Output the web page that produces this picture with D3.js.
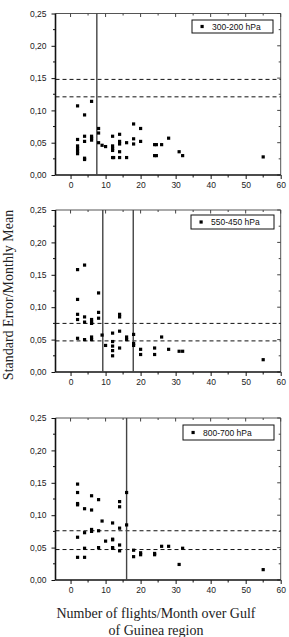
<!DOCTYPE html>
<html>
<head>
    <meta charset="UTF-8">
    <title>Standard error vs flights</title>
    <style>
        body { margin: 0; background: #fff; }
        svg { display: block; }
        .tick-label { font-family: "Liberation Sans", Arial, sans-serif; font-size: 8.5px; fill: #222; }
        .legend-text { font-family: "Liberation Sans", Arial, sans-serif; font-size: 8.5px; fill: #111; }
        .axis-title { font-family: "Liberation Serif", "Times New Roman", serif; font-size: 14px; fill: #222; }
    </style>
</head>
<body>
<script src="https://cdn.jsdelivr.net/npm/d3@7"></script>
<script>
    // data: [flights per month, standard error / monthly mean]
    var pts300 = [
        [2, 0.107], [6, 0.114], [4, 0.093], [8, 0.072], [8, 0.065], [18, 0.079], [20, 0.072],
        [12, 0.060], [14, 0.063], [2, 0.055], [4, 0.060], [4, 0.052], [6, 0.060], [6, 0.057],
        [6, 0.054], [8, 0.050], [9, 0.046], [10, 0.044], [12, 0.045], [12, 0.041], [12, 0.038],
        [14, 0.052], [14, 0.048], [16, 0.050], [18, 0.056], [18, 0.048], [20, 0.052], [14, 0.036],
        [12, 0.027], [12.3, 0.027], [14, 0.027], [16, 0.027], [2, 0.045], [2, 0.041], [2, 0.037],
        [2, 0.033], [4, 0.024], [4, 0.026], [24, 0.047], [24.5, 0.047], [26, 0.047], [28, 0.057],
        [24, 0.030], [24.5, 0.030], [31, 0.036], [32, 0.030], [55, 0.028]
    ];
    var pts550 = [
        [2, 0.158], [4, 0.165], [8, 0.122], [2, 0.112], [2, 0.089], [2, 0.081], [4, 0.085],
        [4, 0.077], [6, 0.081], [6, 0.077], [6, 0.075], [8, 0.092], [8, 0.083], [14, 0.089],
        [14, 0.085], [2, 0.052], [4, 0.050], [6, 0.054], [6, 0.050], [9, 0.057], [10, 0.041],
        [12, 0.060], [12, 0.047], [12, 0.040], [12, 0.033], [12, 0.025], [14, 0.063], [14, 0.037],
        [16, 0.054], [16, 0.050], [18, 0.058], [18, 0.044], [18, 0.041], [20, 0.035], [20, 0.027],
        [24, 0.037], [24, 0.027], [26, 0.054], [28, 0.035], [31, 0.032], [32, 0.032], [55, 0.019]
    ];
    var pts800 = [
        [2, 0.148], [2, 0.135], [2, 0.118], [2, 0.116], [6, 0.130], [8, 0.124], [4, 0.110],
        [6, 0.108], [14, 0.121], [14, 0.113], [16, 0.135], [9, 0.091], [12, 0.088], [16, 0.085],
        [14, 0.080], [6, 0.078], [6, 0.075], [4, 0.073], [8, 0.076], [2, 0.066], [10, 0.060],
        [12, 0.063], [12, 0.062], [14, 0.054], [14, 0.045], [12, 0.050], [12, 0.049], [8, 0.050],
        [4, 0.049], [2, 0.035], [4, 0.035], [18, 0.046], [18, 0.036], [20, 0.042], [20, 0.039],
        [24, 0.041], [24, 0.039], [26, 0.052], [28, 0.052], [31, 0.024], [32, 0.049], [55, 0.016]
    ];

    var legendLabels = ["300-200 hPa", "550-450 hPa", "800-700 hPa"];
    var vLines = [[7.5], [9.2, 17.9], [16]];
    var hLines = [[0.148, 0.121], [0.075, 0.048], [0.076, 0.047]];

    var xTicks = [0, 10, 20, 30, 40, 50, 60];
    var xMinor = [5, 15, 25, 35, 45, 55];
    var yTicks = [0, 0.05, 0.10, 0.15, 0.20, 0.25];
    var yMinor = [0.025, 0.075, 0.125, 0.175, 0.225];

    var panels = [
        {data: pts300, top: 13.5, bottom: 175, legend: {x: 192, y: 20, w: 81, h: 13}},
        {data: pts550, top: 210, bottom: 372, legend: {x: 191, y: 215, w: 83, h: 14}},
        {data: pts800, top: 418, bottom: 580, legend: {x: 183, y: 425, w: 91, h: 15}}
    ];

    var left = 55.5, right = 280.7;
    var fmt = (d) => d3.format(".2f")(d).replace(".", ",");

    var svg = d3.select("body").append("svg")
        .attr("width", 289)
        .attr("height", 637);

    var x = d3.scaleLinear().domain([-4.3, 60]).range([left, right]);

    panels.forEach(function(p, i) {
        var y = d3.scaleLinear().domain([0, 0.25]).range([p.bottom, p.top]);
        var g = svg.append("g");

        // frame: top and right lighter
        g.append("line").attr("x1", left).attr("x2", right).attr("y1", p.top).attr("y2", p.top)
            .attr("stroke", "#555").attr("stroke-width", 1);
        g.append("line").attr("x1", right).attr("x2", right).attr("y1", p.top).attr("y2", p.bottom)
            .attr("stroke", "#555").attr("stroke-width", 1);

        // mirror ticks (inward) on top and right
        g.selectAll(".tt").data(xTicks.concat(xMinor)).enter().append("line")
            .attr("x1", (d) => x(d)).attr("x2", (d) => x(d))
            .attr("y1", p.top).attr("y2", (d) => p.top + (xTicks.indexOf(d) >= 0 ? 3.5 : 2))
            .attr("stroke", "#444");
        g.selectAll(".rt").data(yTicks.concat(yMinor)).enter().append("line")
            .attr("y1", (d) => y(d)).attr("y2", (d) => y(d))
            .attr("x1", right).attr("x2", (d) => right - (yTicks.indexOf(d) >= 0 ? 3.5 : 2))
            .attr("stroke", "#444");

        // bottom and left axes
        var xAxis = d3.axisBottom(x).tickValues(xTicks).tickSize(4).tickPadding(3).tickFormat(d3.format("d"));
        var gx = g.append("g").attr("transform", `translate(0,${p.bottom})`).call(xAxis);
        gx.select(".domain").attr("d", `M${left},0H${right}`).attr("stroke", "#111").attr("stroke-width", 1.6);
        gx.selectAll(".tick line").attr("stroke", "#111");
        gx.selectAll(".tick text").attr("class", "tick-label").attr("font-size", null).attr("font-family", null)
            .attr("fill", null).attr("dy", "0.75em");
        gx.selectAll(".minor").data(xMinor).enter().append("line").attr("class", "minor")
            .attr("x1", (d) => x(d)).attr("x2", (d) => x(d)).attr("y1", 0).attr("y2", 2.5).attr("stroke", "#111");

        var yAxis = d3.axisLeft(y).tickValues(yTicks).tickSize(4).tickPadding(5).tickFormat(fmt);
        var gy = g.append("g").attr("transform", `translate(${left},0)`).call(yAxis);
        gy.select(".domain").attr("d", `M0,${p.bottom}V${p.top}`).attr("stroke", "#111").attr("stroke-width", 1.6);
        gy.selectAll(".tick line").attr("stroke", "#111");
        gy.selectAll(".tick text").attr("class", "tick-label").attr("font-size", null).attr("font-family", null)
            .attr("fill", null);
        gy.selectAll(".minor").data(yMinor).enter().append("line").attr("class", "minor")
            .attr("y1", (d) => y(d)).attr("y2", (d) => y(d)).attr("x1", 0).attr("x2", -2.5).attr("stroke", "#111");

        // reference lines
        g.selectAll(".hl").data(hLines[i]).enter().append("line")
            .attr("x1", left).attr("x2", right)
            .attr("y1", (d) => y(d)).attr("y2", (d) => y(d))
            .attr("stroke", "#111").attr("stroke-width", 1).attr("stroke-dasharray", "4,3");
        g.selectAll(".vl").data(vLines[i]).enter().append("line")
            .attr("x1", (d) => x(d)).attr("x2", (d) => x(d))
            .attr("y1", p.top).attr("y2", p.bottom)
            .attr("stroke", "#444").attr("stroke-width", 1.4);

        // points
        g.selectAll(".pt").data(p.data).enter().append("rect")
            .attr("x", (d) => x(d[0]) - 1.6)
            .attr("y", (d) => y(d[1]) - 1.6)
            .attr("width", 3.2).attr("height", 3.2)
            .attr("fill", "#000");

        // legend
        var L = p.legend;
        g.append("rect").attr("x", L.x).attr("y", L.y).attr("width", L.w).attr("height", L.h)
            .attr("fill", "#fff").attr("stroke", "#111").attr("stroke-width", 1);
        g.append("rect").attr("x", L.x + 8.5).attr("y", L.y + L.h / 2 - 1.6)
            .attr("width", 3.2).attr("height", 3.2).attr("fill", "#000");
        g.append("text").attr("class", "legend-text")
            .attr("x", L.x + 20).attr("y", L.y + L.h / 2 + 3)
            .text(legendLabels[i]);
    });

    svg.append("text").attr("class", "axis-title")
        .attr("transform", "translate(13,295) rotate(-90)")
        .attr("text-anchor", "middle")
        .text("Standard Error/Monthly Mean");

    svg.append("text").attr("class", "axis-title")
        .attr("x", 156).attr("y", 618)
        .attr("text-anchor", "middle")
        .text("Number of flights/Month over Gulf");
    svg.append("text").attr("class", "axis-title")
        .attr("x", 156).attr("y", 635)
        .attr("text-anchor", "middle")
        .text("of Guinea region");
</script>
</body>
</html>
